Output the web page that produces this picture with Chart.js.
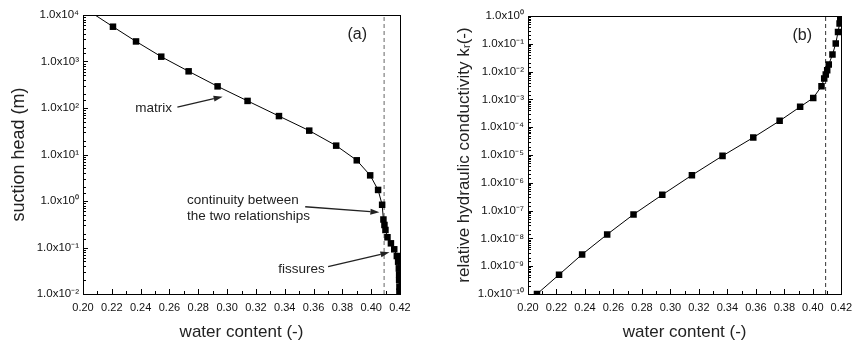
<!DOCTYPE html>
<html><head><meta charset="utf-8">
<script src="https://cdn.jsdelivr.net/npm/chart.js@4/dist/chart.umd.min.js"></script>
<style>
html,body{margin:0;padding:0;background:#fff;width:859px;height:343px;overflow:hidden}
#a{position:absolute;left:0;top:0}
#b{position:absolute;left:430px;top:0}
</style></head><body>
<canvas id="a" width="430" height="343"></canvas>
<canvas id="b" width="429" height="343"></canvas>
<script>
// ---- data ----
const waterContentA = [0.2063, 0.2208, 0.2368, 0.2543, 0.2733, 0.2934, 0.3142, 0.3360, 0.3570, 0.3757, 0.3900, 0.3993, 0.4048, 0.4076, 0.4085, 0.4092, 0.4099, 0.4113, 0.4137, 0.4160, 0.4178, 0.4187, 0.4192, 0.4194, 0.4194, 0.4196, 0.4196];
const suctionHead   = [1.1e4, 5600, 2700, 1270, 615, 292, 142, 67, 32.6, 15.5, 7.5, 3.56, 1.73, 0.83, 0.40, 0.305, 0.238, 0.166, 0.123, 0.0915, 0.0656, 0.0495, 0.0357, 0.0265, 0.0200, 0.0144, 0.0112];
const waterContentB = [0.2063, 0.2218, 0.2380, 0.2556, 0.2741, 0.2943, 0.3151, 0.3366, 0.3582, 0.3767, 0.3911, 0.4003, 0.4061, 0.4080, 0.4091, 0.4101, 0.4112, 0.4138, 0.4161, 0.4177, 0.4188, 0.4193, 0.4195];
const relConductivity = [1.0e-10, 4.95e-10, 2.66e-9, 1.39e-8, 7.28e-8, 3.7e-7, 1.88e-6, 9.3e-6, 4.26e-5, 1.69e-4, 5.4e-4, 1.13e-3, 2.98e-3, 5.6e-3, 7.8e-3, 1.12e-2, 1.8e-2, 4.1e-2, 0.102, 0.266, 0.533, 0.70, 0.92];
const fissureLimit = [0.409];
const xRange = [0.20, 0.42];
const suctionRange = [1e-2, 1e4];
const conductivityRange = [1e-10, 1e0];
const xMinorStep = 0.01;

const notesA = [
  {text: 'matrix', x: 0.2363, y: 100},
  {text: 'continuity between', x: 0.2721, y: 1.05},
  {text: 'the two relationships', x: 0.2721, y: 0.475},
  {text: 'fissures', x: 0.3355, y: 0.0345},
  {text: '(a)', x: 0.3903, y: 3700, big: true}
];
const arrowsA = [
  {x1: 0.2655, y1: 105, x2: 0.2969, y2: 175},
  {x1: 0.3542, y1: 0.753, x2: 0.4057, y2: 0.571},
  {x1: 0.3701, y1: 0.0387, x2: 0.4127, y2: 0.0789}
];
const notesB = [{text: '(b)', x: 0.3926, y: 0.203, big: true}];
const arrowsB = [];

// ---- helpers ----
const FONT = "'Liberation Sans', Arial, Helvetica, sans-serif";
Chart.defaults.font.family = FONT;
const SUP = {'0':'\u2070','1':'\u00B9','2':'\u00B2','3':'\u00B3','4':'\u2074','5':'\u2075','6':'\u2076','7':'\u2077','8':'\u2078','9':'\u2079','-':'\u207B'};
function isPow10(v){ const e = Math.log10(v); return Math.abs(e - Math.round(e)) < 1e-6; }
function sciLabel(v){
  if (!isPow10(v)) return '';
  const r = Math.round(Math.log10(v));
  return '1.0x10' + String(r).split('').map(c => SUP[c]).join('');
}
function isXMajor(v){ return Math.round(v * 100) % 2 === 0; }
function xLabel(v){ return isXMajor(v) ? v.toFixed(2) : ''; }

const framePlugin = {
  id: 'frame',
  afterDatasetsDraw(chart, args, opts) {
    const {ctx, chartArea: a, scales: {x, y}} = chart;
    ctx.save();
    ctx.strokeStyle = '#000';
    ctx.lineWidth = 1;
    ctx.beginPath();
    x.ticks.forEach(t => {
      const px = Math.round(x.getPixelForValue(t.value)) + 0.5;
      const len = isXMajor(t.value) ? 5 : 3;
      ctx.moveTo(px, a.bottom); ctx.lineTo(px, a.bottom - len);
    });
    y.ticks.forEach(t => {
      const py = Math.round(y.getPixelForValue(t.value)) + 0.5;
      const len = isPow10(t.value) ? 5 : 3;
      ctx.moveTo(a.left, py); ctx.lineTo(a.left + len, py);
    });
    ctx.stroke();
    ctx.strokeRect(Math.round(a.left) + 0.5, Math.round(a.top) + 0.5, Math.round(a.right - a.left), Math.round(a.bottom - a.top));
    // annotations
    ctx.fillStyle = '#222';
    ctx.textBaseline = 'middle';
    (opts.notes || []).forEach(n => {
      ctx.font = (n.big ? '16px ' : '13.5px ') + FONT;
      ctx.textAlign = n.big ? 'center' : 'left';
      ctx.fillText(n.text, x.getPixelForValue(n.x), y.getPixelForValue(n.y));
    });
    ctx.strokeStyle = '#222';
    ctx.lineWidth = 1.3;
    (opts.arrows || []).forEach(r => {
      const x1 = x.getPixelForValue(r.x1), y1 = y.getPixelForValue(r.y1);
      const x2 = x.getPixelForValue(r.x2), y2 = y.getPixelForValue(r.y2);
      const ang = Math.atan2(y2 - y1, x2 - x1);
      const hl = 9, hw = 3;
      const bx = x2 - hl * Math.cos(ang), by = y2 - hl * Math.sin(ang);
      ctx.beginPath(); ctx.moveTo(x1, y1); ctx.lineTo(bx, by); ctx.stroke();
      ctx.beginPath();
      ctx.moveTo(x2, y2);
      ctx.lineTo(bx + hw * Math.sin(ang), by - hw * Math.cos(ang));
      ctx.lineTo(bx - hw * Math.sin(ang), by + hw * Math.cos(ang));
      ctx.closePath(); ctx.fill();
    });
    ctx.restore();
  }
};

function makeChart(id, xs, ys, yRange, yTitle, yTitleSize, yWidth, pad, titlePad, dashStyle, notes, arrows) {
  return new Chart(document.getElementById(id), {
    type: 'line',
    data: {
      datasets: [
        {
          data: xs.map((v, i) => ({x: v, y: ys[i]})),
          borderColor: '#000', borderWidth: 1, tension: 0,
          pointStyle: 'rect',
          pointRadius: c => (c.raw && c.raw.y > yRange[1]) ? 0 : 4.6,
          pointBackgroundColor: '#000', pointBorderColor: '#000', pointBorderWidth: 0
        },
        {
          data: [{x: fissureLimit[0], y: yRange[0]}, {x: fissureLimit[0], y: yRange[1]}],
          borderColor: dashStyle.color, borderWidth: dashStyle.width, borderDash: dashStyle.dash, pointRadius: 0
        }
      ]
    },
    options: {
      responsive: false, animation: false, devicePixelRatio: 1,
      layout: {padding: pad},
      plugins: {legend: {display: false}, tooltip: {enabled: false}, frame: {notes, arrows}},
      scales: {
        x: {
          type: 'linear', min: xRange[0], max: xRange[1],
          afterFit: s => { s.height = 49; },
          grid: {display: false, drawTicks: false}, border: {display: false},
          ticks: {stepSize: xMinorStep, autoSkip: false, maxRotation: 0, padding: 7, callback: xLabel, color: '#111', font: {size: 11}},
          title: {display: true, text: 'water content (-)', color: '#222', font: {size: 17}, padding: {top: 0, bottom: 0}}
        },
        y: {
          type: 'logarithmic', min: yRange[0], max: yRange[1],
          afterFit: s => { s.width = yWidth; },
          grid: {display: false, drawTicks: false}, border: {display: false},
          ticks: {autoSkip: false, padding: 4, callback: sciLabel, color: '#111', font: {size: 11.5}},
          title: {display: true, text: yTitle, color: '#222', font: {size: yTitleSize}, padding: {top: titlePad, bottom: 0}}
        }
      }
    },
    plugins: [framePlugin]
  });
}

makeChart('a', waterContentA, suctionHead, suctionRange, 'suction head (m)', 18, 83,
  {top: 15, right: 30, left: 0, bottom: 0}, 8,
  {color: '#999', width: 1.5, dash: [4, 3]}, notesA, arrowsA);
makeChart('b', waterContentB, relConductivity, conductivityRange, 'relative hydraulic conductivity k\u1D63(-)', 17, 98,
  {top: 16, right: 14, left: 0, bottom: 0}, 24,
  {color: '#333', width: 1, dash: [4, 3]}, notesB, arrowsB);
</script>
</body></html>
